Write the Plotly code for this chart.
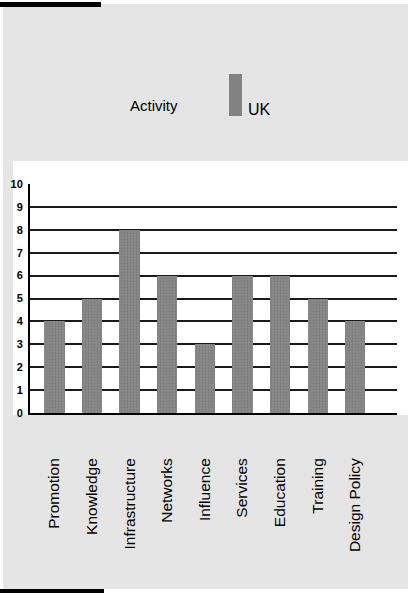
import plotly.graph_objects as go

categories = ["Promotion", "Knowledge", "Infrastructure", "Networks", "Influence",
              "Services", "Education", "Training", "Design Policy"]
uk_values = [4, 5, 8, 6, 3, 6, 6, 5, 4]
y_ticks = list(range(0, 11))
y_tick_labels = [str(v) for v in y_ticks]
series_name = "UK"
legend_title = "Activity"

W, H = 408, 593
L, R, T, B = 30, 11, 184, 180
PW, PH = W - L - R, H - T - B


def px_x(x):
    return (x - L) / PW


def px_y(y):
    return 1 - (y - T) / PH


FONT = "Liberation Sans, Arial, sans-serif"

fig = go.Figure()
fig.add_trace(go.Bar(
    x=list(range(len(categories))),
    y=uk_values,
    name=series_name,
    width=0.54,
    marker=dict(color="#8c8c8c", line=dict(width=0),
                pattern=dict(shape=".", fgcolor="#6a6a6a", size=3, solidity=0.45)),
    showlegend=False,
))

shapes = [
    # grey panel
    dict(type="rect", xref="paper", yref="paper", layer="below",
         x0=px_x(3), x1=px_x(409), y0=px_y(589), y1=px_y(4),
         fillcolor="#e5e5e5", line=dict(width=0)),
    # white plot panel
    dict(type="rect", xref="paper", yref="paper", layer="below",
         x0=px_x(13), x1=px_x(409), y0=px_y(415), y1=px_y(161),
         fillcolor="white", line=dict(width=0)),
    # top black bar
    dict(type="rect", xref="paper", yref="paper", layer="above",
         x0=px_x(0), x1=px_x(101), y0=px_y(7), y1=px_y(2),
         fillcolor="black", line=dict(width=0)),
    # bottom black bar
    dict(type="rect", xref="paper", yref="paper", layer="above",
         x0=px_x(0), x1=px_x(104), y0=px_y(594), y1=px_y(589),
         fillcolor="black", line=dict(width=0)),
    # legend swatch
    dict(type="rect", xref="paper", yref="paper", layer="above",
         x0=px_x(229), x1=px_x(242), y0=px_y(116), y1=px_y(74),
         fillcolor="#828282", line=dict(width=0)),
]

annotations = [
    dict(text=legend_title, xref="paper", yref="paper", x=px_x(154), y=px_y(106),
         xanchor="center", yanchor="middle", showarrow=False,
         font=dict(family=FONT, size=15, color="black")),
    dict(text=series_name, xref="paper", yref="paper", x=px_x(246), y=px_y(109),
         xanchor="left", yanchor="middle", showarrow=False,
         font=dict(family=FONT, size=16, color="black")),
]

fig.update_layout(
    width=W, height=H,
    margin=dict(l=L, r=R, t=T, b=B, autoexpand=False),
    paper_bgcolor="white",
    plot_bgcolor="white",
    shapes=shapes,
    annotations=annotations,
    bargap=0,
    xaxis=dict(
        range=[-0.65, 9.11],
        tickmode="array",
        tickvals=list(range(len(categories))),
        ticktext=categories,
        tickangle=-90,
        tickfont=dict(family=FONT, size=15.5, color="black"),
        ticklabelstandoff=37,
        showgrid=False,
        showline=True, linecolor="black", linewidth=2,
        ticks="", zeroline=False,
    ),
    yaxis=dict(
        range=[0, 10],
        tickmode="array",
        tickvals=y_ticks,
        ticktext=y_tick_labels,
        tickfont=dict(family=FONT, size=11, color="black", weight="bold"),
        showgrid=True, gridcolor="#1a1a1a", gridwidth=2,
        showline=True, linecolor="black", linewidth=2,
        zeroline=False, ticks="",
        ticklabelstandoff=3,
    ),
)

fig.write_html(
    "out.html",
    config={"displayModeBar": False},
    post_script="document.body.style.margin='0';document.body.style.overflow='hidden';",
)
